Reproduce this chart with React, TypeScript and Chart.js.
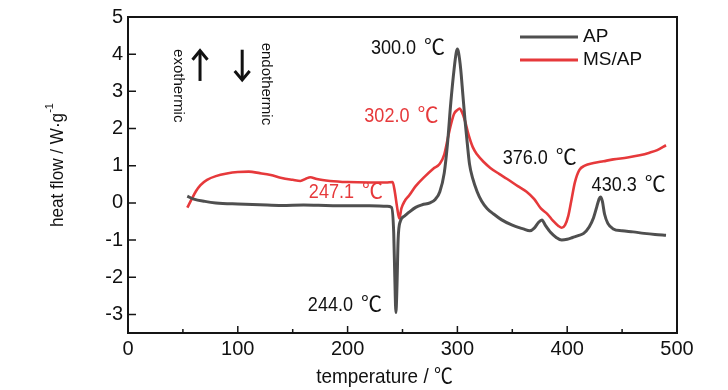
import React, { useEffect, useRef } from "react";
import { Chart, registerables } from "chart.js";
Chart.register(...registerables);

// ---- data ----
const apTemp = [54, 60, 70, 80, 100, 120, 140, 160, 180, 200, 220, 236, 240, 242, 243, 244, 245, 246, 248, 252, 256, 262, 268, 275, 280, 284, 288, 291, 294, 297, 299, 300, 301, 303, 305, 307, 309, 311, 314, 318, 322, 327, 333, 340, 350, 360, 366, 370, 374, 377, 380, 385, 390, 395, 400, 405, 410, 415, 420, 424, 427, 429, 430.3, 432, 434, 437, 442, 450, 460, 470, 480, 490];
const apFlow = [0.18, 0.1, 0.04, 0.0, -0.03, -0.05, -0.07, -0.06, -0.07, -0.08, -0.08, -0.09, -0.12, -0.8, -2.0, -2.95, -2.2, -1.0, -0.5, -0.35, -0.25, -0.12, -0.05, 0.0, 0.1, 0.3, 0.8, 1.6, 2.7, 3.6, 4.05, 4.14, 4.05, 3.6, 2.9, 2.2, 1.6, 1.05, 0.65, 0.3, 0.05, -0.15, -0.3, -0.45, -0.6, -0.7, -0.75, -0.68, -0.52, -0.46, -0.6, -0.8, -0.93, -1.0, -0.98, -0.93, -0.88, -0.82, -0.65, -0.4, -0.1, 0.1, 0.16, 0.05, -0.3, -0.55, -0.7, -0.75, -0.78, -0.82, -0.85, -0.87];

const msTemp = [54, 58, 62, 66, 72, 80, 90, 100, 110, 120, 130, 140, 150, 157, 162, 166, 172, 184, 200, 220, 235, 241, 243, 245, 247.1, 249, 252, 256, 262, 270, 278, 284, 288, 291, 294, 297, 300, 302, 304, 307, 310, 314, 318, 324, 330, 338, 345, 355, 363, 370, 376, 382, 387, 392, 395, 398, 401, 404, 407, 411, 416, 424, 433, 442, 455, 466, 475, 482, 490];
const msFlow = [-0.13, 0.1, 0.32, 0.48, 0.62, 0.72, 0.79, 0.83, 0.84, 0.8, 0.75, 0.67, 0.62, 0.59, 0.65, 0.69, 0.64, 0.59, 0.56, 0.55, 0.55, 0.56, 0.3, -0.1, -0.42, -0.15, 0.05, 0.2, 0.45, 0.7, 0.92, 1.05, 1.3, 1.7, 2.1, 2.4, 2.5, 2.54, 2.45, 2.2, 1.85, 1.5, 1.3, 1.1, 0.94, 0.78, 0.65, 0.45, 0.3, 0.1, -0.15, -0.3, -0.48, -0.62, -0.67, -0.6, -0.35, 0.1, 0.55, 0.88, 1.0, 1.07, 1.12, 1.17, 1.22, 1.28, 1.35, 1.42, 1.55];

const xTicks = [0, 100, 200, 300, 400, 500];
const xMinorTicks = [50, 150, 250, 350, 450];
const yTicks = [-3, -2, -1, 0, 1, 2, 3, 4, 5];
const seriesNames = ["AP", "MS/AP"];
const peakNumbers = ["300.0", "302.0", "247.1", "244.0", "376.0", "430.3"];
const degUnit = "℃";
const xTitle = "temperature / ℃";
const yTitle = "heat flow / W·g";
const yTitleSup = "-1";
const exoText = "exothermic";
const endoText = "endothermic";

const GRAY = "#4f4f4f";
const RED = "#e6393b";
const FONT = "'Liberation Sans', Arial, 'Noto Sans CJK SC', sans-serif";

export default function App() {
  const ref = useRef<HTMLCanvasElement | null>(null);

  useEffect(() => {
    if (!ref.current) return;
    const decor = {
      id: "decor",
      afterDraw(chart: any) {
        const ctx = chart.ctx as CanvasRenderingContext2D;
        const xs = chart.scales.x;
        const ys = chart.scales.y;
        const a = chart.chartArea;
        const X = (t: number) => xs.getPixelForValue(t);
        const Y = (v: number) => ys.getPixelForValue(v);
        ctx.save();
        // frame
        ctx.strokeStyle = "#151515";
        ctx.lineWidth = 2;
        ctx.strokeRect(a.left, a.top, a.right - a.left, a.bottom - a.top);
        // ticks
        ctx.lineWidth = 1.5;
        ctx.beginPath();
        xTicks.forEach((t) => {
          ctx.moveTo(X(t), a.bottom);
          ctx.lineTo(X(t), a.bottom - 7);
        });
        xMinorTicks.forEach((t) => {
          ctx.moveTo(X(t), a.bottom);
          ctx.lineTo(X(t), a.bottom - 4);
        });
        yTicks.forEach((v) => {
          ctx.moveTo(a.left, Y(v));
          ctx.lineTo(a.left + 8, Y(v));
        });
        ctx.stroke();

        // legend
        ctx.lineWidth = 3;
        ctx.strokeStyle = GRAY;
        ctx.beginPath();
        ctx.moveTo(a.right - 157, a.top + 20);
        ctx.lineTo(a.right - 99, a.top + 20);
        ctx.stroke();
        ctx.strokeStyle = RED;
        ctx.beginPath();
        ctx.moveTo(a.right - 157, a.top + 43);
        ctx.lineTo(a.right - 99, a.top + 43);
        ctx.stroke();
        ctx.fillStyle = "#111";
        ctx.font = `19px ${FONT}`;
        ctx.textAlign = "left";
        ctx.textBaseline = "middle";
        ctx.fillText(seriesNames[0], a.right - 94, a.top + 20);
        ctx.fillText(seriesNames[1], a.right - 94, a.top + 43);

        // peak labels: number (slightly condensed) + unit
        const pos: [number, number, string][] = [
          [255, 4.15, "#111"],
          [249, 2.33, RED],
          [198.5, 0.3, RED],
          [197.6, -2.75, "#111"],
          [375, 1.2, "#111"],
          [456, 0.48, "#111"],
        ];
        const kx = 0.86;
        const gap = 8;
        peakNumbers.forEach((s, i) => {
          const cx = X(pos[i][0]);
          const cy = Y(pos[i][1]);
          ctx.fillStyle = pos[i][2];
          ctx.textBaseline = "middle";
          ctx.textAlign = "left";
          ctx.font = `21px ${FONT}`;
          const wn = ctx.measureText(s).width * kx;
          ctx.font = `21px ${FONT}`;
          const wu = ctx.measureText(degUnit).width;
          const left = cx - (wn + gap + wu) / 2;
          ctx.save();
          ctx.translate(left, cy);
          ctx.scale(kx, 1);
          ctx.font = `21px ${FONT}`;
          ctx.fillText(s, 0, 0);
          ctx.restore();
          ctx.font = `21px ${FONT}`;
          ctx.fillText(degUnit, left + wn + gap, cy);
        });

        // exo / endo
        ctx.fillStyle = "#111";
        ctx.font = `15px ${FONT}`;
        const drawVert = (s: string, t: number, v: number) => {
          ctx.save();
          ctx.translate(X(t), Y(v));
          ctx.rotate(Math.PI / 2);
          ctx.textAlign = "center";
          ctx.textBaseline = "middle";
          ctx.fillText(s, 0, 0);
          ctx.restore();
        };
        drawVert(exoText, 45.5, 3.15);
        drawVert(endoText, 125.7, 3.2);
        const arrow = (t: number, vTail: number, vHead: number) => {
          const x = X(t);
          const y0 = Y(vTail);
          const y1 = Y(vHead);
          const dir = y1 < y0 ? 1 : -1;
          ctx.strokeStyle = "#111";
          ctx.lineWidth = 3;
          ctx.beginPath();
          ctx.moveTo(x, y0);
          ctx.lineTo(x, y1 + dir * 2);
          ctx.stroke();
          ctx.beginPath();
          ctx.moveTo(x - 7.5, y1 + dir * 10);
          ctx.lineTo(x, y1 + dir * 1);
          ctx.lineTo(x + 7.5, y1 + dir * 10);
          ctx.stroke();
        };
        arrow(65.6, 3.28, 4.12);
        arrow(104, 4.12, 3.28);

        // axis titles
        ctx.fillStyle = "#111";
        ctx.font = `21px ${FONT}`;
        ctx.textAlign = "center";
        ctx.textBaseline = "alphabetic";
        ctx.save();
        ctx.translate((a.left + a.right) / 2 - 18, 383);
        ctx.scale(0.9, 1);
        ctx.fillText(xTitle, 0, 0);
        ctx.restore();

        ctx.font = `19px ${FONT}`;
        const w = ctx.measureText(yTitle).width * 0.9;
        ctx.font = `11px ${FONT}`;
        const ws = ctx.measureText(yTitleSup).width;
        const total = w + ws;
        ctx.save();
        ctx.translate(63, (a.top + a.bottom) / 2 - 10);
        ctx.rotate(-Math.PI / 2);
        ctx.textAlign = "left";
        ctx.save();
        ctx.scale(0.9, 1);
        ctx.font = `19px ${FONT}`;
        ctx.fillText(yTitle, -total / 2 / 0.9, 0);
        ctx.restore();
        ctx.font = `11px ${FONT}`;
        ctx.fillText(yTitleSup, -total / 2 + w, -10);
        ctx.restore();
        ctx.restore();
      },
    };

    const chart = new Chart(ref.current, {
      type: "line",
      data: {
        datasets: [
          {
            label: seriesNames[0],
            data: apTemp.map((t, i) => ({ x: t, y: apFlow[i] })),
            borderColor: GRAY,
            borderWidth: 3,
            pointRadius: 0,
            cubicInterpolationMode: "monotone",
            fill: false,
          },
          {
            label: seriesNames[1],
            data: msTemp.map((t, i) => ({ x: t, y: msFlow[i] })),
            borderColor: RED,
            borderWidth: 2.6,
            pointRadius: 0,
            cubicInterpolationMode: "monotone",
            fill: false,
          },
        ],
      },
      options: {
        animation: false,
        responsive: false,
        devicePixelRatio: 1,
        layout: { padding: { left: 0, top: 14, right: 51, bottom: 0 } },
        plugins: { legend: { display: false }, tooltip: { enabled: false } },
        scales: {
          x: {
            type: "linear",
            min: 0,
            max: 500,
            grid: { display: false, drawTicks: false },
            border: { display: false },
            afterBuildTicks: (s: any) => {
              s.ticks = xTicks.map((v) => ({ value: v }));
            },
            afterFit: (s: any) => {
              s.height = 57;
            },
            ticks: {
              autoSkip: false,
              maxRotation: 0,
              padding: 4,
              color: "#111",
              font: { family: FONT, size: 20 },
            },
          },
          y: {
            type: "linear",
            min: -3.5,
            max: 5,
            grid: { display: false, drawTicks: false },
            border: { display: false },
            afterBuildTicks: (s: any) => {
              s.ticks = yTicks.map((v) => ({ value: v }));
            },
            afterFit: (s: any) => {
              s.width = 128;
            },
            ticks: {
              autoSkip: false,
              padding: 5,
              color: "#111",
              font: { family: FONT, size: 20 },
            },
          },
        },
      },
      plugins: [decor],
    } as any);
    return () => chart.destroy();
  }, []);

  return (
    <div style={{ position: "fixed", left: 0, top: 0, width: 728, height: 390, background: "#fff" }}>
      <canvas ref={ref} width={728} height={390} style={{ width: 728, height: 390, display: "block" }} />
    </div>
  );
}
